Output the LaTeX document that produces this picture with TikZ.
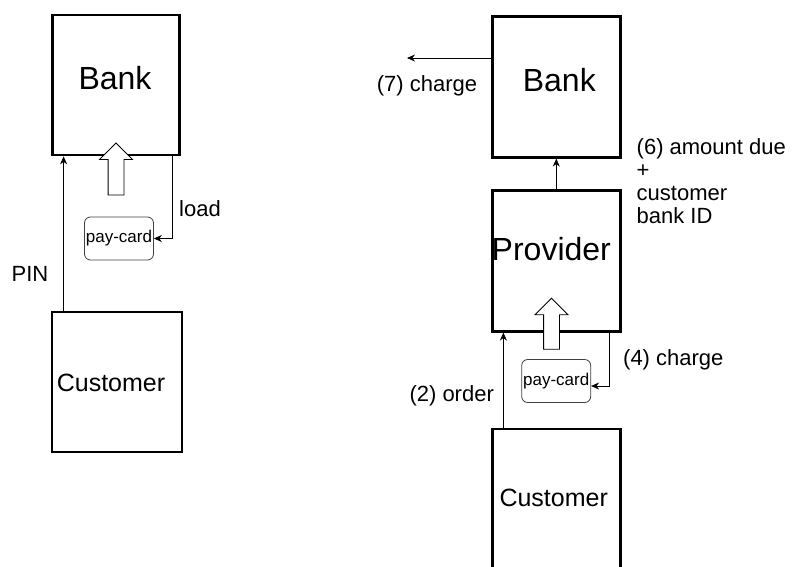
\documentclass[tikz,border=0pt]{standalone}
\usepackage{fontspec}
\setmainfont{Liberation Sans}
\usepackage{tikz}
\usetikzlibrary{arrows.meta,shapes.arrows}
\tikzset{
  partybox/.style={draw,line width=2.8pt,minimum width=128pt,minimum height=141pt,inner sep=0pt},
  bigname/.style={font=\fontsize{32}{36}\selectfont},
  midname/.style={font=\fontsize{25}{28}\selectfont},
  paycard/.style={draw=black!75,line width=0.8pt,rounded corners=6pt,minimum width=69pt,
    minimum height=43pt,inner sep=0pt,font=\fontsize{17}{20}\selectfont},
  handover/.style={single arrow,draw,fill=white,line width=0.8pt,shape border rotate=90,
    inner sep=7.5pt,single arrow head extend=8.5pt,minimum height=52pt},
  msg/.style={font=\fontsize{22}{23}\selectfont,inner sep=0pt},
  flow/.style={->,line width=0.8pt}
}

\begin{document}
\begin{tikzpicture}[x=1pt,y=-1pt,>={Stealth[length=8pt,width=7pt]}]
  \useasboundingbox (0,0) rectangle (795,567);

  % loading the card at the bank
  \node[partybox,minimum width=127pt,minimum height=140pt,
    label={[bigname,xshift=-1pt,yshift=7pt]center:Bank}] (bankL) at (116,85) {};
  \node[partybox,minimum width=130pt,minimum height=140pt,
    label={[midname,xshift=-6pt,yshift=-1pt]center:Customer}] (custL) at (117,382) {};
  \node[handover] (cardupL) at (116,173) {};
  \node[paycard] (cardL) at (119,238.5) {pay-card};

  \draw[flow] ([xshift=13pt]custL.north west) -- ([xshift=13pt]custL.north west |- bankL.south);
  \draw[flow] ([xshift=-9pt]bankL.south east) |- (cardL.east);
  \node[msg] (pin) at (30,274) {PIN};
  \node[msg] (load) at (200,209) {load};

  % paying the provider with it
  \node[partybox,label={[bigname,xshift=3pt,yshift=6.7pt]center:Bank}] (bankR) at (556.3,86.7) {};
  \node[partybox,label={[bigname,xshift=-5pt,yshift=11.7pt]center:Provider}] (provR) at (556.3,260.7) {};
  \node[partybox,label={[midname,xshift=-2.6pt,yshift=1.5pt]center:Customer}] (custR) at (556.3,499.5) {};
  \node[handover,minimum height=51pt] (cardupR) at (551.5,327.7) {};
  \node[paycard] (cardR) at (556.2,381) {pay-card};

  \coordinate (chargeout) at (407,58);
  \draw[flow] (bankR.west |- chargeout) -- (chargeout);
  \draw[flow] (provR.north) -- (bankR.south);
  \draw[flow] ([xshift=12.5pt]custR.north west) -- ([xshift=12.5pt]custR.north west |- provR.south);
  \draw[flow] ([xshift=-12pt]provR.south east) |- ([yshift=-5pt]cardR.east);

  \node[msg] (charge7) at (427,85.5) {(7) charge};
  \node[msg,align=left,anchor=north west] (due6) at (636.5,138) {(6) amount due\\+\\customer\\bank ID};
  \node[msg] (order2) at (451.7,396) {(2) order};
  \node[msg] (charge4) at (673.3,360) {(4) charge};
\end{tikzpicture}
\end{document}
